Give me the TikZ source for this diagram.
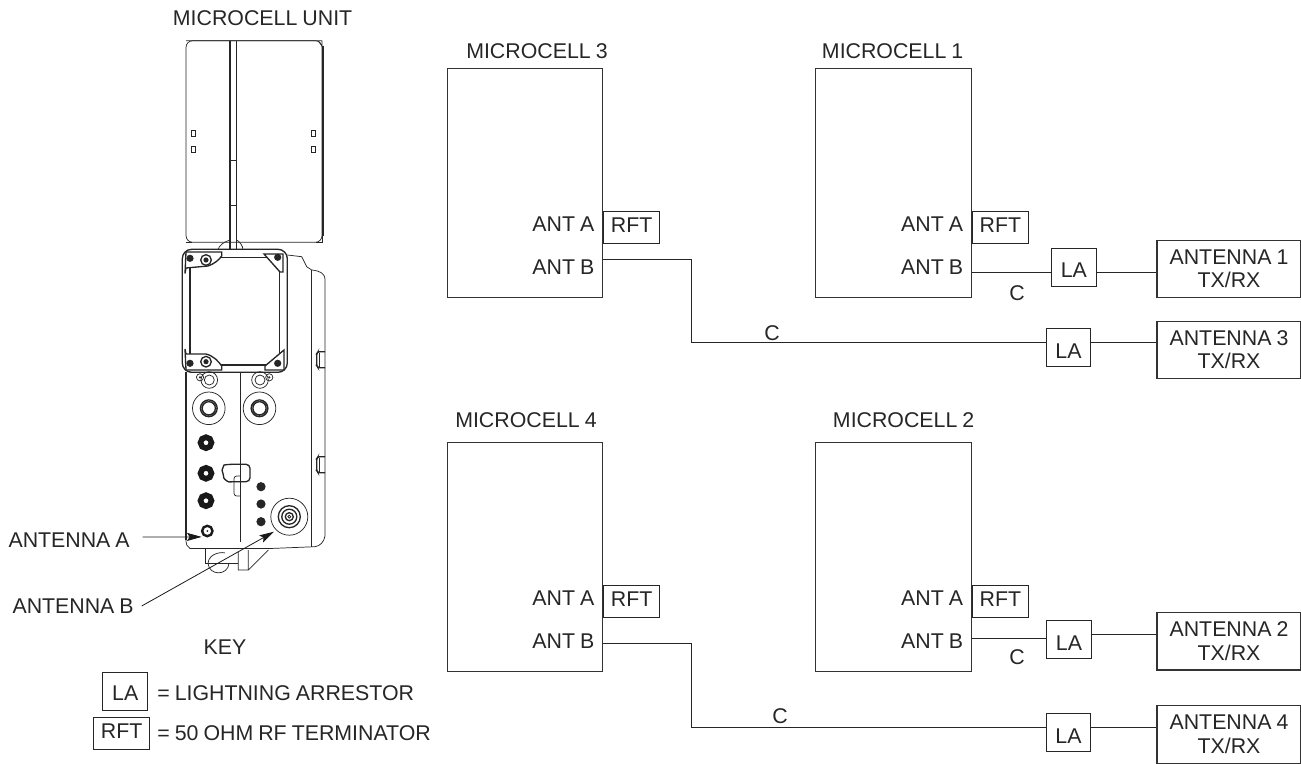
\documentclass[tikz,border=0pt]{standalone}
\usepackage{fontspec}
\setmainfont[WordSpace=0.85]{Liberation Sans}
\usetikzlibrary{arrows.meta, positioning}

\begin{document}
\begin{tikzpicture}[
    x=0.75pt, y=-0.75pt,
    font=\fontsize{16}{17.6}\selectfont,
    every node/.style={text=black!85},
    wire/.style={draw=black!85, line width=0.7pt},
    part/.style={draw=black!85, line width=0.55pt},
    heavy/.style={draw=black!85, line width=1pt},
    cell/.style={rectangle, draw=black!80, line width=0.8pt, minimum width=116.8pt, minimum height=172.2pt, inner sep=0pt},
    rftbox/.style={rectangle, draw=black!85, line width=0.7pt, minimum width=41.8pt, minimum height=24pt, inner sep=0pt, text height=11.5pt, text depth=4pt},
    labox/.style={rectangle, draw=black!85, line width=0.7pt, minimum width=33.4pt, minimum height=28.8pt, inner sep=0pt, text height=16pt, text depth=0pt},
    antbox/.style={rectangle, draw=black!80, line width=0.8pt, minimum width=108pt, minimum height=43pt, inner sep=0pt, align=center},
    tag/.style={inner sep=0pt},
    pointer/.style={-{Stealth[length=11pt, width=6pt, inset=2pt]}, draw=black!90, line width=0.6pt}
]
\useasboundingbox (0,0) rectangle (1301,763);

% Microcell unit, cover
\draw[part, rounded corners=5pt] (186,40.7) rectangle (322,242.3);
\draw[part] (186,40.7) -- (322,40.7) (322,40.7) -- (322,46) (318,40.7) -- (322,46);
\draw[part] (322,236) -- (322,242.3) -- (316,242.3) (186,242.3) -- (192,242.3);
\draw[heavy] (323,46) -- (323,236);
\draw[heavy] (230,40.7) -- (230,250) (236.7,40.7) -- (236.7,250);
\draw[heavy] (229.5,160.7) rectangle (236.7,205.7);
\foreach \xpos in {193.3,313}
  \foreach \ypos in {133.3,149.3}
    \draw[part] (\xpos-2,\ypos-3.2) rectangle (\xpos+2,\ypos+3.2);
\draw[part] (218,250) .. controls (219,245) and (224,242) .. (230,240);
\draw[part] (236.7,240) .. controls (240,242) and (243,246) .. (243,250);

% Microcell unit, mounting frame
\draw[heavy, rounded corners=7pt] (182.3,249.3) rectangle (287.3,372.3);
\draw[heavy] (190,257.3) rectangle (279.3,365);
\draw[heavy, fill=white] (185,273.5) -- (186,268) -- (208,266) .. controls (214,264) and (219,260) .. (221.7,256) -- (221.7,252) -- (186,252) -- cycle;
\draw[heavy, fill=white] (264,254) -- (283,254) -- (283,272) -- (280,272) -- cycle;
\draw[heavy, fill=white] (185,349) -- (186,354) -- (206,354) .. controls (214,356) and (219,362) .. (221.7,366) -- (221.7,370) -- (186,370) -- cycle;
\draw[heavy, fill=white] (284,350) -- (284,370) -- (265,370) -- (265,366) -- cycle;
\foreach \xpos/\ypos in {190/258.3,277.7/257.3,190/363.3,277.7/363.3}
  \fill[black!85] (\xpos,\ypos) circle (3.6);
\foreach \xpos/\ypos in {206/260,206/361.7}{
  \draw[heavy] (\xpos,\ypos) circle (5.3);
  \fill[black!85] (\xpos,\ypos) circle (2.6);
}

% Microcell unit, body
\draw[part] (287.3,255) -- (301.7,256.7) -- (306.7,266.7) -- (311.7,270) .. controls (320,271) and (325,273) .. (325,280) -- (325,536) .. controls (324,542) and (320,546) .. (315,546.7) -- (270,548.5) -- (190,548.5) .. controls (187,547) and (186,544) .. (186,540);
\draw[heavy] (186,372.3) -- (186,540);
\draw[part] (311.7,270) -- (311.7,546.5);
\draw[part] (240.7,372.3) -- (240.7,541.7);
\draw[part] (205,549) -- (205,563.3) -- (238.3,563.3);
\draw[part] (208,563.3) .. controls (209,576) and (228,576) .. (229,563.3);
\draw[part] (208,563.3) .. controls (209,552) and (224,552) .. (225,553);
\draw[part] (238.3,552) -- (238.3,570) -- (248.3,570) -- (248.3,550) (248.3,570) -- (268.3,550);

% Microcell unit, fittings
\foreach \xpos/\spot in {209.3/200,260/269.3}{
  \draw[part] (\xpos,380) circle (8.3) (\xpos,380) circle (5);
  \draw[part] (\spot,377.3) circle (3.6);
  \fill[black!85] (\spot,377.3) circle (1.2);
  \draw[part] (\xpos-0.5,408.3) circle (16.3);
  \draw[heavy] (\xpos-0.5,408.3) circle (8.4) (\xpos-0.5,408.3) circle (6.6);
}
\foreach \ypos in {442.7,473.3,500.7}{
  \draw[draw=black!90, line width=4.2pt] (206,\ypos) circle (5.5);
}
\draw[draw=black!90, line width=1.8pt] (207.3,531) circle (5.2);
\fill[black!85] (207.3,531) circle (1);
\foreach \ypos in {486.7,504,521.7}
  \fill[black!85] (261,\ypos) circle (4.6);
\draw[part] (289.3,516.7) circle (18.5);
\draw[heavy] (289.3,516.7) circle (11);
\draw[heavy] (289.3,516.7) circle (7.5);
\draw[heavy] (289.3,516.7) circle (4);
\draw[part] (289.3,516.7) circle (1.5);

% Microcell unit, latches
\draw[heavy, rounded corners=3pt] (240.7,464.3) -- (228,464.3) .. controls (224,465) and (222,470) .. (223.3,474) .. controls (224,479) and (228,482) .. (233,481.7) -- (250,481.7) -- (250,464.3) -- (240.7,464.3);
\draw[part, rounded corners=2pt] (240.7,476) -- (234,476) -- (234,496) -- (240.7,496);
\foreach \ypos in {351.7,456.7}{
  \draw[heavy, rounded corners=1pt] (325,\ypos) -- (318,\ypos) -- (316.7,\ypos+2) -- (316.7,\ypos+14) -- (318,\ypos+16) -- (325,\ypos+16);
  \draw[part] (319.5,\ypos+1) -- (319.5,\ypos+15);
}

% Titles
\node[tag, anchor=west] (unittitle) at (172.7,18) {MICROCELL UNIT};
\node[tag, anchor=west] (title3) at (466,51) {MICROCELL 3};
\node[tag, anchor=west] (title1) at (821.7,51) {MICROCELL 1};
\node[tag, anchor=west] (title4) at (455,420.5) {MICROCELL 4};
\node[tag, anchor=west] (title2) at (832.7,420.5) {MICROCELL 2};

% Microcells
\node[cell] (m3) at (524.9,183) {};
\node[cell] (m1) at (893.6,183) {};
\node[cell] (m4) at (524.9,557) {};
\node[cell] (m2) at (893.6,557) {};

% Port labels
\foreach \cell/\ya/\yb in {m3/224/267, m1/224/267, m4/598/641, m2/598/641}{
  \node[tag, anchor=east] (\cell porta) at ([xshift=-6.5pt]\cell.east |- 0,\ya) {ANT A};
  \node[tag, anchor=east] (\cell portb) at ([xshift=-6.5pt]\cell.east |- 0,\yb) {ANT B};
}

% Terminators
\node[rftbox, anchor=north west] (rft3) at (m3.east |- 0,211.3) {RFT};
\node[rftbox, anchor=north west] (rft1) at (m1.east |- 0,211.3) {RFT};
\node[rftbox, anchor=north west] (rft4) at (m4.east |- 0,585) {RFT};
\node[rftbox, anchor=north west] (rft2) at (m2.east |- 0,585) {RFT};

% Arrestors
\node[labox] (la1) at (1073.8,267.2) {LA};
\node[labox] (la3) at (1068.5,347.6) {LA};
\node[labox] (la2) at (1069,639.7) {LA};
\node[labox] (la4) at (1068.5,732.5) {LA};

% Antennas
\node[antbox] (ant1) at (1229,269) {ANTENNA 1\\TX/RX};
\node[antbox] (ant3) at (1229,349.7) {ANTENNA 3\\TX/RX};
\node[antbox] (ant2) at (1229,641.3) {ANTENNA 2\\TX/RX};
\node[antbox] (ant4) at (1229,734.4) {ANTENNA 4\\TX/RX};

% Wires
\coordinate (out3) at (m3.east |- 0,259.3);
\coordinate (out1) at (m1.east |- 0,272);
\coordinate (out4) at (m4.east |- 0,643.3);
\coordinate (out2) at (m2.east |- 0,638.3);

\draw[wire] (out1) -- (la1.west |- out1);
\draw[wire] (la1.east |- out1) -- (ant1.west |- out1);
\draw[wire] (out3) -- (691.7,259.3) -- (691.7,342.7) -- (la3.west |- 0,342.7);
\draw[wire] (la3.east |- 0,342.7) -- (ant3.west |- 0,342.7);
\draw[wire] (out2) -- (la2.west |- out2);
\draw[wire] (la2.east |- 0,634.3) -- (ant2.west |- 0,634.3);
\draw[wire] (out4) -- (691.7,643.3) -- (691.7,727) -- (la4.west |- 0,727);
\draw[wire] (la4.east |- 0,727) -- (ant4.west |- 0,727);

\node[tag] (c1) at (1017,293) {C};
\node[tag] (c3) at (772,333) {C};
\node[tag] (c2) at (1017,657.5) {C};
\node[tag] (c4) at (780,715.7) {C};

% Port pointers
\node[tag, anchor=east] (anta) at (130,540) {ANTENNA A};
\node[tag, anchor=east] (antb) at (134,606) {ANTENNA B};
\coordinate (portA) at (201.7,536.9);
\coordinate (portB) at (274,531.7);
\draw[pointer] (142.7,537) -- (portA);
\draw[pointer] (141.7,606) -- (portB);

% Key
\node[tag] (keytitle) at (225,647) {KEY};
\node[labox, text height=13.5pt] (keyla) at (125.2,691.5) {LA};
\node[rftbox] (keyrft) at (121.6,733.6) {RFT};
\node[tag, anchor=west] (keylatext) at (157,693) {= LIGHTNING ARRESTOR};
\node[tag, anchor=west] (keyrfttext) at (157,733) {= 50 OHM RF TERMINATOR};

\end{tikzpicture}
\end{document}
